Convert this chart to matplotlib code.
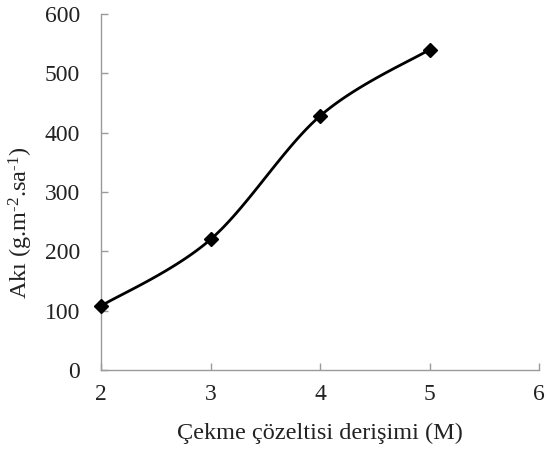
import numpy as np
import matplotlib
matplotlib.use("Agg")
import matplotlib.pyplot as plt

x_vals = [2, 3, 4, 5]
y_vals = [108, 220, 428, 540]
x_ticks = [2, 3, 4, 5, 6]
y_ticks = [0, 100, 200, 300, 400, 500, 600]
x_label = "Çekme çözeltisi derişimi (M)"
y_label = r"Akı (g.m$^{\text{-2}}$.sa$^{\text{-1}}$)"

plt.rcParams['font.family'] = ['Liberation Serif', 'DejaVu Serif']
plt.rcParams['mathtext.fontset'] = 'custom'
plt.rcParams['mathtext.rm'] = 'Liberation Serif'
plt.rcParams['mathtext.it'] = 'Liberation Serif'

def excel_smooth(xs, ys, n=40):
    xs = np.asarray(xs, float); ys = np.asarray(ys, float)
    px = np.concatenate([[xs[0]], xs, [xs[-1]]])
    py = np.concatenate([[ys[0]], ys, [ys[-1]]])
    outx, outy = [], []
    t = np.linspace(0, 1, n)
    for i in range(1, len(px) - 2):
        p0 = np.array([px[i], py[i]]); p3 = np.array([px[i+1], py[i+1]])
        p1 = p0 + (np.array([px[i+1], py[i+1]]) - np.array([px[i-1], py[i-1]])) / 6
        p2 = p3 - (np.array([px[i+2], py[i+2]]) - np.array([px[i], py[i]])) / 6
        b = ((1-t)**3)[:, None]*p0 + (3*(1-t)**2*t)[:, None]*p1 + (3*(1-t)*t**2)[:, None]*p2 + (t**3)[:, None]*p3
        outx.extend(b[:, 0]); outy.extend(b[:, 1])
    return np.array(outx), np.array(outy)

fig = plt.figure(figsize=(5.48, 4.53), dpi=100)
ax = fig.add_axes([101/548, 1-370/453, 438/548, 356/453])

sx, sy = excel_smooth(x_vals, y_vals)
ax.plot(sx, sy, color='black', lw=2.0, zorder=3)
ax.plot(x_vals, y_vals, linestyle='none', marker='D', ms=7, color='black', zorder=4, clip_on=False)

ax.set_xlim(2, 6)
ax.set_ylim(0, 600)
ax.set_xticks(x_ticks)
ax.set_yticks(y_ticks)
for s in ['top', 'right']:
    ax.spines[s].set_visible(False)
for s in ['left', 'bottom']:
    ax.spines[s].set_color('#9a9a9a')
    ax.spines[s].set_linewidth(1.0)
ax.tick_params(axis='both', direction='in', color='#9a9a9a', length=5, width=1.0,
               labelsize=17, labelcolor='#222222')
ax.tick_params(axis='y', pad=15)
ax.tick_params(axis='x', pad=10)

ax.set_xlabel(x_label, fontsize=17.5, color='#222222')
ax.set_ylabel(y_label, fontsize=17.5, color='#222222')
ax.xaxis.set_label_coords(0.5, -0.147)
ax.yaxis.set_label_coords(-0.15, 0.413)

fig.savefig("out.png", dpi=100)
